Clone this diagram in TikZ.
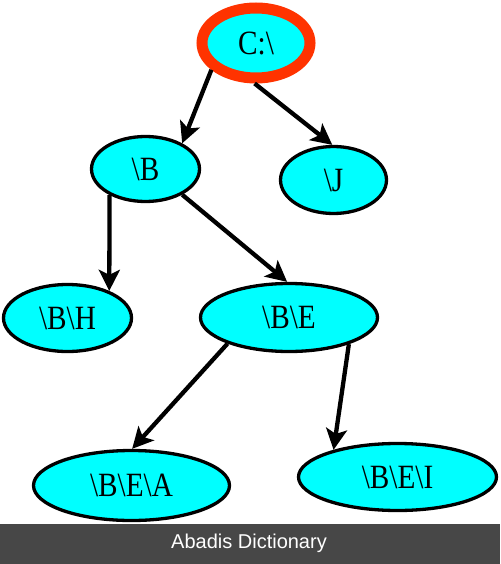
\documentclass[tikz,border=0pt]{standalone}
\usepackage{fontspec}
\setmainfont{Liberation Serif}
\newfontfamily\nodefont[FakeStretch=0.86]{Liberation Serif}
\newfontfamily\bannerfont{Liberation Sans}
\usetikzlibrary{shapes.geometric,arrows.meta}
\definecolor{nodecyan}{RGB}{0,255,255}
\definecolor{ringred}{RGB}{255,51,0}
\definecolor{bannergray}{RGB}{71,71,71}
\begin{document}
\begin{tikzpicture}[x=1pt,y=-1pt,
  tnode/.style={ellipse, draw=black, line width=3.3pt, fill=nodecyan, inner sep=0pt,
    font=\nodefont\fontsize{34}{34}\selectfont},
  edge/.style={line width=4.3pt, -{Stealth[length=21pt,width=21pt,inset=5pt]}}]
\useasboundingbox (0,0) rectangle (500,564);
\fill[white] (0,0) rectangle (500,524);
\node[tnode, draw=ringred, line width=11pt, minimum width=108pt, minimum height=70pt] (c) at (256,43) {C:\textbackslash};
\node[tnode, minimum width=108pt, minimum height=65pt] (b) at (145.5,169) {\textbackslash B};
\node[tnode, minimum width=106pt, minimum height=67pt] (j) at (333.5,180) {\textbackslash J};
\node[tnode, minimum width=128pt, minimum height=67pt] (bh) at (67.5,318) {\textbackslash B\textbackslash H};
\node[tnode, minimum width=177pt, minimum height=68pt] (be) at (289,317.5) {\textbackslash B\textbackslash E};
\node[tnode, minimum width=196pt, minimum height=70pt] (bea) at (131.5,485.5) {\textbackslash B\textbackslash E\textbackslash A};
\node[tnode, minimum width=198pt, minimum height=67pt] (bei) at (397.5,477) {\textbackslash B\textbackslash E\textbackslash I};
\draw[edge] (c.211) -- (b.35);
\draw[edge] (c.268) -- (j.92);
\draw[edge] (b.216) -- (bh.33);
\draw[edge] (b.325) -- (be.93);
\draw[edge] (be.203) -- (bea.89);
\draw[edge] (be.336) -- (bei.157);
\node[fill=bannergray, minimum width=500pt, minimum height=40pt, inner sep=0pt, anchor=north west] (banner) at (0,524) {};
\node[text=white, font=\bannerfont\fontsize{20}{20}\selectfont] (bannertext) at (249,543) {Abadis Dictionary};
\end{tikzpicture}
\end{document}
